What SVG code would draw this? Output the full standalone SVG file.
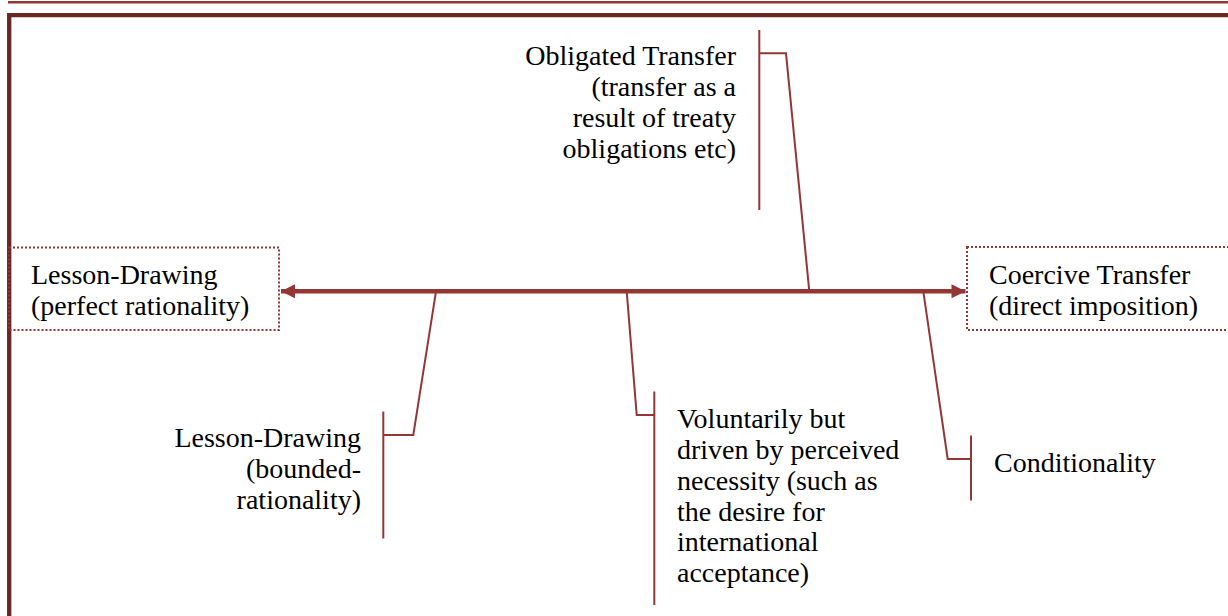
<svg xmlns="http://www.w3.org/2000/svg" width="1228" height="616" viewBox="0 0 1228 616">
<defs>
<style>
.t{font-family:"Liberation Serif","Times New Roman",serif;font-size:28px;fill:#000}
.r{text-anchor:end}
.box{fill:none;stroke:#943634;stroke-width:2;stroke-dasharray:2 2}
.ln{fill:none;stroke:#943634;stroke-width:2}
.main{fill:none;stroke:#943634;stroke-width:4.5}
</style>
<marker id="ah" viewBox="0 0 10 10" refX="10" refY="5" markerWidth="16" markerHeight="14" markerUnits="userSpaceOnUse" orient="auto-start-reverse">
<path d="M0,0 L10,5 L0,10 Z" fill="#943634"/>
</marker>
</defs>
<rect width="1228" height="616" fill="#fff"/>
<line x1="8" y1="2.2" x2="1228" y2="2.2" stroke="#943634" stroke-width="2.4"/>
<path d="M9.2,620 V15.2 H1230" fill="none" stroke="#6a2525" stroke-width="4.3"/>

<g id="lesson-perfect">
<rect class="box" x="9" y="247.5" width="270" height="82.5"/>
<text class="t" x="31" y="284">Lesson-Drawing</text>
<text class="t" x="31" y="315">(perfect rationality)</text>
</g>

<g id="coercive">
<rect class="box" x="967" y="247" width="270" height="83"/>
<text class="t" x="989" y="284">Coercive Transfer</text>
<text class="t" x="989" y="315">(direct imposition)</text>
</g>

<g id="obligated">
<line class="ln" x1="759.3" y1="30" x2="759.3" y2="210"/>
<text class="t r" x="736" y="65">Obligated Transfer</text>
<text class="t r" x="736" y="96">(transfer as a</text>
<text class="t r" x="736" y="127">result of treaty</text>
<text class="t r" x="736" y="158">obligations etc)</text>
</g>

<g id="lesson-bounded">
<line class="ln" x1="383.3" y1="411.5" x2="383.3" y2="538.5"/>
<text class="t r" x="361" y="447">Lesson-Drawing</text>
<text class="t r" x="361" y="478">(bounded-</text>
<text class="t r" x="361" y="509">rationality)</text>
</g>

<g id="voluntary">
<line class="ln" x1="654.3" y1="391.5" x2="654.3" y2="605"/>
<text class="t" x="677" y="428">Voluntarily but</text>
<text class="t" x="677" y="459">driven by perceived</text>
<text class="t" x="677" y="490">necessity (such as</text>
<text class="t" x="677" y="520.5">the desire for</text>
<text class="t" x="677" y="551">international</text>
<text class="t" x="677" y="582">acceptance)</text>
</g>

<g id="conditionality">
<line class="ln" x1="971" y1="435.5" x2="971" y2="500.5"/>
<text class="t" x="994" y="472">Conditionality</text>
</g>

<g id="connectors">
<line class="main" x1="281" y1="291.3" x2="965.5" y2="291.3" marker-start="url(#ah)" marker-end="url(#ah)"/>
<polyline class="ln" points="759.3,53.3 786,53.3 809.3,291.3"/>
<polyline class="ln" points="436,291.3 413.3,435 383.3,435"/>
<polyline class="ln" points="626.7,291.3 636.7,415 654.3,415"/>
<polyline class="ln" points="923.3,291.3 947.7,459 971,459"/>
</g>
</svg>
